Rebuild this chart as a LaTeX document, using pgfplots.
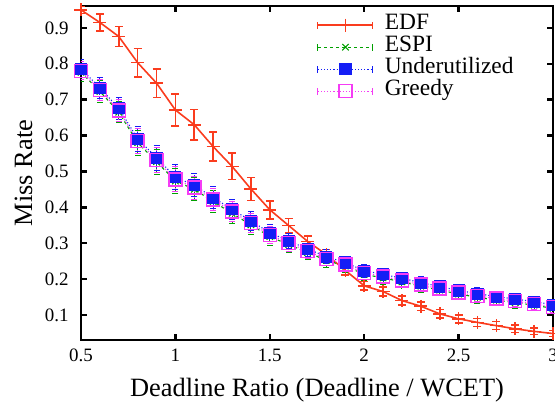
\documentclass[border=0pt]{standalone}
\usepackage{pgfplots}
\usepackage{pgfplotstable}
\pgfplotsset{compat=1.18}
\usepackage{fontspec}
\setmainfont{Liberation Serif}
\definecolor{cEDF}{RGB}{250,60,30}
\definecolor{cESPI}{RGB}{0,160,0}
\definecolor{cUnd}{RGB}{20,30,245}
\definecolor{cGre}{RGB}{245,60,245}

\pgfplotstableread{
x y e
0.5 0.950 0.010
0.6 0.915 0.024
0.7 0.876 0.028
0.8 0.803 0.040
0.9 0.746 0.040
1.0 0.671 0.044
1.1 0.630 0.042
1.2 0.569 0.040
1.3 0.514 0.037
1.4 0.451 0.032
1.5 0.393 0.025
1.6 0.349 0.020
1.7 0.305 0.015
1.8 0.268 0.014
1.9 0.224 0.013
2.0 0.181 0.012
2.1 0.165 0.012
2.2 0.140 0.012
2.3 0.124 0.012
2.4 0.103 0.012
2.5 0.089 0.011
2.6 0.079 0.011
2.7 0.070 0.011
2.8 0.061 0.010
2.9 0.054 0.009
3.0 0.048 0.008
}\edf

\pgfplotstableread{
x y e
0.5 0.776 0.025
0.6 0.723 0.030
0.7 0.665 0.030
0.8 0.580 0.035
0.9 0.527 0.035
1.0 0.473 0.035
1.1 0.450 0.032
1.2 0.416 0.030
1.3 0.383 0.028
1.4 0.351 0.026
1.5 0.318 0.024
1.6 0.296 0.022
1.7 0.274 0.020
1.8 0.252 0.019
1.9 0.236 0.018
2.0 0.213 0.018
2.1 0.203 0.017
2.2 0.192 0.017
2.3 0.180 0.017
2.4 0.169 0.016
2.5 0.158 0.016
2.6 0.149 0.016
2.7 0.141 0.015
2.8 0.134 0.015
2.9 0.127 0.015
3.0 0.118 0.015
}\espi

\pgfplotstableread{
x y e
0.5 0.786 0.025
0.6 0.733 0.030
0.7 0.676 0.030
0.8 0.591 0.035
0.9 0.538 0.035
1.0 0.484 0.035
1.1 0.461 0.032
1.2 0.427 0.030
1.3 0.394 0.028
1.4 0.362 0.026
1.5 0.329 0.024
1.6 0.306 0.022
1.7 0.284 0.020
1.8 0.262 0.019
1.9 0.246 0.018
2.0 0.223 0.018
2.1 0.213 0.017
2.2 0.202 0.017
2.3 0.190 0.017
2.4 0.179 0.016
2.5 0.168 0.016
2.6 0.159 0.016
2.7 0.151 0.015
2.8 0.144 0.015
2.9 0.137 0.015
3.0 0.128 0.015
}\und

\pgfplotstableread{
x y e
0.5 0.780 0.025
0.6 0.727 0.030
0.7 0.670 0.030
0.8 0.585 0.035
0.9 0.532 0.035
1.0 0.478 0.035
1.1 0.455 0.032
1.2 0.421 0.030
1.3 0.388 0.028
1.4 0.356 0.026
1.5 0.323 0.024
1.6 0.300 0.022
1.7 0.278 0.020
1.8 0.256 0.019
1.9 0.240 0.018
2.0 0.217 0.018
2.1 0.207 0.017
2.2 0.196 0.017
2.3 0.184 0.017
2.4 0.173 0.016
2.5 0.162 0.016
2.6 0.153 0.016
2.7 0.145 0.015
2.8 0.138 0.015
2.9 0.131 0.015
3.0 0.122 0.015
}\gre

\begin{document}
\begin{tikzpicture}
\begin{axis}[
  scale only axis,
  width=472bp, height=334bp,
  xmin=0.5, xmax=3, ymin=0.03, ymax=0.961,
  xtick={0.5,1,1.5,2,2.5,3},
  ytick={0.1,0.2,0.3,0.4,0.5,0.6,0.7,0.8,0.9},
  /pgf/number format/assume math mode=true,
  tick align=inside,
  xtick pos=both, ytick pos=both,
  major tick length=6bp,
  axis line style={line width=2.5bp},
  every tick/.style={black, line width=2.5bp},
  ticklabel style={font=\fontsize{19}{21}\selectfont},
  xticklabel style={yshift=-5bp},
  yticklabel style={xshift=-9bp},
  xlabel={Deadline Ratio (Deadline / WCET)},
  ylabel={Miss Rate},
  label style={font=\fontsize{26.5}{30}\selectfont},
  xlabel style={at={(0.5,-0.1677)}, anchor=base},
  ylabel style={at={(-0.1038,0.5)}, anchor=base},
  legend cell align=left,
  legend style={draw=none, fill=none, at={(0.5,1)}, anchor=north west,
    yshift=-8bp, inner sep=0pt,
    font=\fontsize{23.5}{22}\selectfont, legend plot pos=left,
    nodes={inner sep=0bp, text height=15.5bp, text depth=6.5bp},
    row sep=0pt, column sep=0pt},
  legend image code/.code={%
    \draw[mark repeat=2,mark phase=2,#1] plot coordinates {(0bp,0bp) (27.5bp,0bp) (55bp,0bp)};
    \draw[#1, solid, line width=1bp] (0bp,-3.5bp) -- (0bp,3.5bp) (55bp,-3.5bp) -- (55bp,3.5bp);
    \path (66bp,0bp);},
]
\addplot[cEDF, line width=1.6bp, mark=+, mark size=6.5bp, mark options={solid, line width=1.6bp},
  error bars/.cd, y dir=both, y explicit,
  error mark options={cEDF, mark size=4bp, line width=1.6bp, rotate=90},
  error bar style={cEDF, line width=1.6bp}]
  table[x=x, y=y, y error=e] {\edf};
\addlegendentry{EDF}
\addplot[cESPI, line width=1.1bp, dashed, mark=x, mark size=4.5bp, mark options={solid, line width=1.1bp},
  error bars/.cd, y dir=both, y explicit,
  error mark options={cESPI, mark size=3bp, line width=1bp, rotate=90},
  error bar style={cESPI, line width=1bp, dotted}]
  table[x=x, y=y, y error=e] {\espi};
\addlegendentry{ESPI}
\addplot[cUnd, line width=1.1bp, dotted, mark=square*, mark size=5.5bp, mark options={solid, fill=cUnd},
  error bars/.cd, y dir=both, y explicit,
  error mark options={cUnd, mark size=3bp, line width=1bp, rotate=90},
  error bar style={cUnd, line width=1bp, dotted}]
  table[x=x, y=y, y error=e] {\und};
\addlegendentry{Underutilized}
\addplot[cGre, line width=1.1bp, dotted, mark=square, mark size=6.5bp, mark options={solid, line width=1.5bp},
  error bars/.cd, y dir=both, y explicit,
  error mark options={cGre, mark size=3bp, line width=1bp, rotate=90},
  error bar style={cGre, line width=1bp, dotted}]
  table[x=x, y=y, y error=e] {\gre};
\addlegendentry{Greedy}
\coordinate (ll) at (rel axis cs:0,0);
\coordinate (ur) at (rel axis cs:1,1);
\end{axis}
\pgfresetboundingbox
\path ([shift={(-81bp,-68bp)}]ll) rectangle ([shift={(2bp,6bp)}]ur);
\end{tikzpicture}
\end{document}
